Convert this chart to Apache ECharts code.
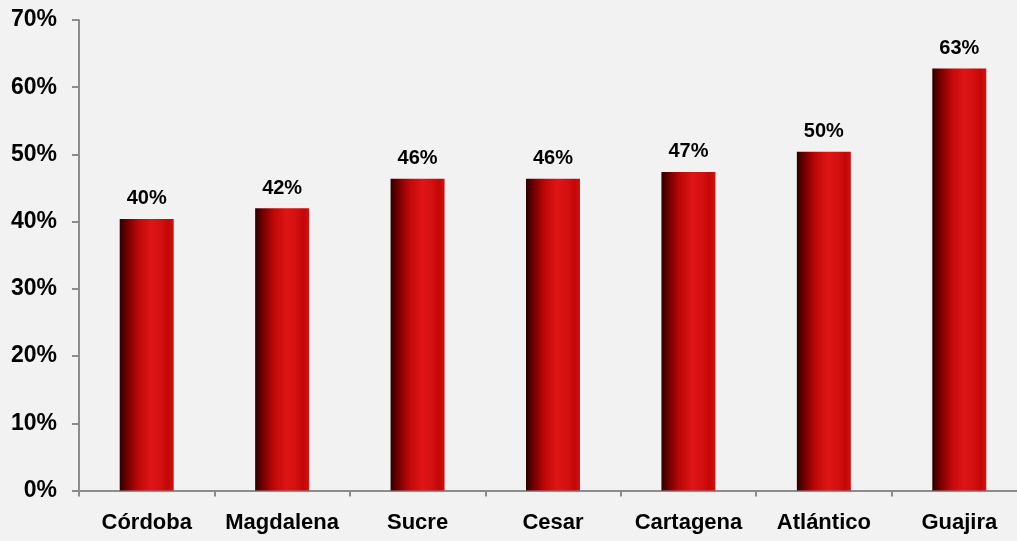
<!DOCTYPE html>
<html>
<head>
<meta charset="utf-8">
<script src="https://cdn.jsdelivr.net/npm/echarts@6/dist/echarts.min.js"></script>
<style>
html,body{margin:0;padding:0;background:#f2f2f2;}
#chart{width:1017px;height:541px;}
</style>
</head>
<body>
<div id="chart"></div>
<script>
const categories = ['Córdoba', 'Magdalena', 'Sucre', 'Cesar', 'Cartagena', 'Atlántico', 'Guajira'];
const values = [40.4, 42.0, 46.4, 46.4, 47.4, 50.4, 62.8];
const yTicks = { min: 0, max: 70, interval: 10 };

const FONT = "'Liberation Sans', Arial, sans-serif";
const chart = echarts.init(document.getElementById('chart'));
const barColor = new echarts.graphic.LinearGradient(0, 0, 1, 0, [
  { offset: 0, color: '#2a0000' },
  { offset: 0.15, color: '#760000' },
  { offset: 0.35, color: '#c00808' },
  { offset: 0.58, color: '#de1515' },
  { offset: 0.75, color: '#d41010' },
  { offset: 0.9, color: '#c40606' },
  { offset: 1, color: '#d41212' }
]);
chart.setOption({
  backgroundColor: '#f2f2f2',
  animation: false,
  grid: { left: 79, top: 20, bottom: 50.5, right: -10, containLabel: false, outerBoundsMode: 'none' },
  xAxis: {
    type: 'category',
    data: categories,
    axisLine: { lineStyle: { color: '#8c8c8c', width: 2 } },
    axisTick: { show: true, alignWithLabel: false, interval: 0, length: 6, lineStyle: { color: '#8c8c8c', width: 2 } },
    axisLabel: { color: '#000', fontFamily: FONT, fontWeight: 'bold', fontSize: 22, margin: 21, interval: 0 }
  },
  yAxis: {
    type: 'value',
    min: yTicks.min, max: yTicks.max, interval: yTicks.interval,
    splitLine: { show: false },
    axisLine: { show: true, lineStyle: { color: '#8c8c8c', width: 2 } },
    axisTick: { show: true, length: 7, lineStyle: { color: '#8c8c8c', width: 2 } },
    axisLabel: { color: '#000', fontFamily: FONT, fontWeight: 'bold', fontSize: 23, margin: 22, formatter: '{value}%' }
  },
  series: [{
    type: 'bar',
    data: values,
    barWidth: 54,
    itemStyle: { color: barColor },
    label: {
      show: true, position: 'top', distance: 10,
      color: '#000', fontFamily: FONT, fontWeight: 'bold', fontSize: 20,
      formatter: p => Math.round(p.value) + '%'
    }
  }]
});
</script>
</body>
</html>
